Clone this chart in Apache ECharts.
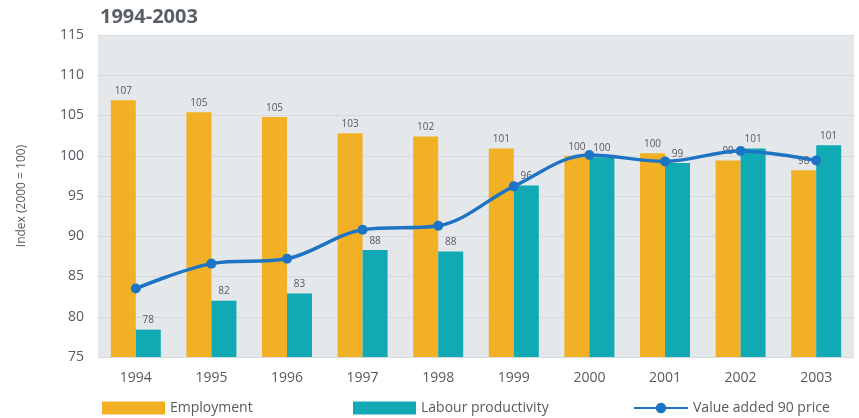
<!DOCTYPE html>
<html>
<head>
<meta charset="utf-8">
<script src="https://cdn.jsdelivr.net/npm/echarts@6/dist/echarts.min.js"></script>
<style>
  html, body { margin: 0; padding: 0; background: #ffffff; }
  #chart { width: 859px; height: 418px; }
</style>
</head>
<body>
<div id="chart"></div>
<script>
// Index values, 2000 = 100
const years = ['1994', '1995', '1996', '1997', '1998', '1999', '2000', '2001', '2002', '2003'];
const employment = [106.9, 105.4, 104.8, 102.8, 102.4, 100.9, 100.0, 100.3, 99.4, 98.2];
const productivity = [78.4, 82.0, 82.9, 88.3, 88.1, 96.3, 99.8, 99.1, 100.9, 101.3];
const valueAdded = [83.5, 86.6, 87.2, 90.8, 91.3, 96.2, 100.1, 99.3, 100.6, 99.4];
const yTicks = { min: 75, max: 115, step: 5 };

const FONT = '"Open Sans", "Noto Sans", sans-serif';
const ORANGE = '#f2b125';
const TEAL = '#10a9b4';
const BLUE = '#1d74c4';
const TEXT = '#555a60';

const chart = echarts.init(document.getElementById('chart'), null, { renderer: 'canvas' });

const barLabel = {
  show: true,
  position: 'top',
  distance: 4,
  fontFamily: FONT,
  fontSize: 10,
  color: TEXT,
  formatter: p => Math.round(p.value)
};

const legendText = { fontFamily: FONT, fontSize: 14, color: TEXT };

chart.setOption({
  animation: false,
  backgroundColor: '#ffffff',
  title: {
    text: '1994-2003',
    left: 95,
    top: 2,
    textStyle: { fontFamily: FONT, fontSize: 20, fontWeight: 'bold', color: '#5a5f66' }
  },
  legend: [
    {
      left: 97, top: 396, itemWidth: 63, itemHeight: 13, icon: 'rect',
      data: ['Employment'], textStyle: legendText
    },
    {
      left: 348, top: 396, itemWidth: 63, itemHeight: 13, icon: 'rect',
      data: ['Labour productivity'], textStyle: legendText
    },
    {
      left: 628, top: 396, itemWidth: 54, itemHeight: 13,
      data: ['Value added 90 price'], textStyle: legendText
    }
  ],
  grid: {
    left: 98, right: 5, top: 35, bottom: 61,
    show: true, backgroundColor: '#e5e8eb', borderWidth: 0
  },
  xAxis: {
    type: 'category',
    data: years,
    axisLine: { show: false },
    axisTick: { show: false },
    axisLabel: { fontFamily: FONT, fontSize: 14, color: TEXT, margin: 14 }
  },
  yAxis: {
    type: 'value',
    min: yTicks.min, max: yTicks.max, interval: yTicks.step,
    name: 'Index (2000 = 100)',
    nameLocation: 'middle',
    nameGap: 70,
    nameTextStyle: { fontFamily: FONT, fontSize: 12, color: TEXT },
    axisLine: { show: false },
    axisTick: { show: false },
    axisLabel: { fontFamily: FONT, fontSize: 14, color: TEXT, margin: 14 },
    splitLine: { lineStyle: { color: '#d6d9de', width: 1 } }
  },
  series: [
    {
      name: 'Employment',
      type: 'bar',
      data: employment,
      barWidth: 25,
      barGap: '0%',
      itemStyle: { color: ORANGE },
      label: barLabel,
      z: 2
    },
    {
      name: 'Labour productivity',
      type: 'bar',
      data: productivity,
      barWidth: 25,
      itemStyle: { color: TEAL },
      label: barLabel,
      z: 2
    },
    {
      name: 'Value added 90 price',
      type: 'line',
      data: valueAdded,
      smooth: 0.35,
      symbol: 'circle',
      symbolSize: 10,
      lineStyle: { color: BLUE, width: 3.5 },
      itemStyle: { color: BLUE },
      z: 5
    }
  ]
});
</script>
</body>
</html>
